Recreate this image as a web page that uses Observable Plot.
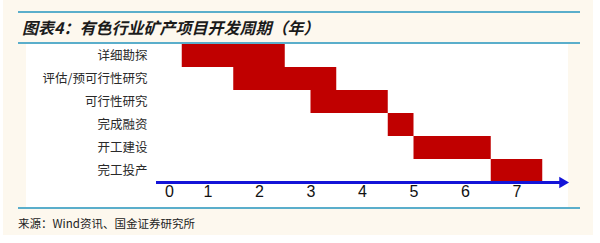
<!DOCTYPE html>
<html>
<head>
<meta charset="utf-8">
<script src="https://cdn.jsdelivr.net/npm/d3@7"></script>
<script src="https://cdn.jsdelivr.net/npm/@observablehq/plot@0.6"></script>
<style>
  html, body { margin: 0; padding: 0; background: #ffffff; }
  #wrap { position: relative; width: 600px; height: 243px; overflow: hidden; background: #ffffff; }
  #panel { position: absolute; left: 3px; top: 0; width: 590px; height: 235px; background: #fdf8ee; }
  .rule { position: absolute; left: 18px; width: 562px; height: 2px; background: #5aaecb; }
  #title { position: absolute; left: 22px; top: 15px; font-family: "Noto Sans CJK SC", sans-serif;
           font-size: 16px; font-weight: bold; font-style: italic; color: #1b1b1b; line-height: 24px;
           white-space: nowrap; }
  #chart { position: absolute; left: 26px; top: 44px; background: #ffffff; }
  #source { position: absolute; left: 18px; top: 215px; font-family: "Noto Sans CJK SC", sans-serif;
            font-size: 11.5px; color: #222; line-height: 16px; white-space: nowrap; }
</style>
</head>
<body>
<div id="wrap">
  <div id="panel"></div>
  <div class="rule" style="top:11px"></div>
  <div id="title">图表4：有色行业矿产项目开发周期（年）</div>
  <div class="rule" style="top:42px"></div>
  <div id="chart"></div>
  <div class="rule" style="top:207px"></div>
  <div id="source">来源：Wind资讯、国金证券研究所</div>
</div>
<script>
// Project development stages and their timing (years)
const stages = ["详细勘探", "评估/预可行性研究", "可行性研究", "完成融资", "开工建设", "完工投产"];
const startYear = [0.5, 1.5, 3.0, 4.5, 5.0, 6.5];
const endYear   = [2.5, 3.5, 4.5, 5.0, 6.5, 7.5];
const yearTicks = [0, 1, 2, 3, 4, 5, 6, 7];
const axisEnd = 8;

const rows = stages.map((s, i) => ({stage: s, start: startYear[i], end: endYear[i]}));
const lastStage = stages[stages.length - 1];

const W = 542, H = 163, MB = 25;
const band = (H - MB) / stages.length;
const blue = "#1414d8";
const tickFont = "'Liberation Sans Narrow', 'Liberation Sans', Arial, sans-serif";

const chart = Plot.plot({
  width: W,
  height: H,
  marginLeft: 130,
  marginRight: 0,
  marginTop: 0,
  marginBottom: MB,
  style: {background: "transparent", overflow: "visible"},
  x: {domain: [0, axisEnd], axis: null},
  y: {domain: stages, padding: 0, label: null},
  marks: [
    Plot.barX(rows, {x1: "start", x2: "end", y: "stage", fill: "#c00000"}),
    Plot.axisY({tickSize: 0, tickPadding: 9, fontSize: 12.5, fill: "#2a2a2a",
                fontFamily: "'Noto Sans CJK SC', sans-serif", label: null}),
    // timeline axis with arrow head
    Plot.ruleY([lastStage], {y: d => d, x1: 0, x2: axisEnd - 0.15, dy: band / 2,
                             stroke: blue, strokeWidth: 3}),
    Plot.dot([lastStage], {x: () => axisEnd, y: d => d, dy: band / 2, dx: -6,
                           symbol: "triangle", rotate: 90, r: 4.2, fill: blue, stroke: "none"}),
    Plot.text(yearTicks.filter(t => t > 0), {x: d => d, frameAnchor: "bottom", dy: 14,
              text: d => String(d), fontSize: 16, fill: "#111", fontFamily: tickFont}),
    Plot.text(yearTicks.filter(t => t === 0), {x: d => d, frameAnchor: "bottom", dy: 14, dx: 13,
              text: d => String(d), fontSize: 16, fill: "#111", fontFamily: tickFont})
  ]
});
document.getElementById("chart").appendChild(chart);
</script>
</body>
</html>
